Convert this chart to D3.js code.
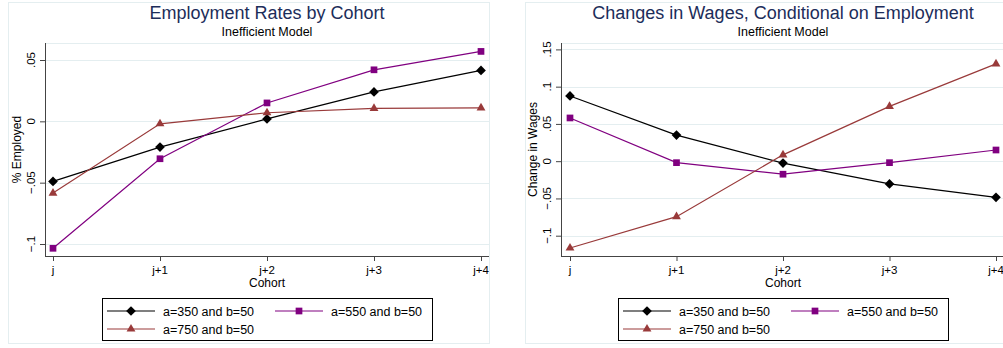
<!DOCTYPE html>
<html>
<head>
<meta charset="utf-8">
<script src="https://cdn.jsdelivr.net/npm/d3@7"></script>
<style>
  body { margin: 0; background: #fff; }
  text { font-family: "Liberation Sans", Arial, sans-serif; }
</style>
</head>
<body>
<script>
'use strict';

// cohorts on the x axis
const cohorts = ["j", "j+1", "j+2", "j+3", "j+4"];
const seriesNames = ["a=350 and b=50", "a=550 and b=50", "a=750 and b=50"];

// employment rates (left panel)
const empA350 = [-0.049, -0.021, 0.002, 0.024, 0.0415];
const empA550 = [-0.1035, -0.0305, 0.015, 0.042, 0.057];
const empA750 = [-0.0585, -0.002, 0.007, 0.0105, 0.011];
const empTicks = [-0.1, -0.05, 0, 0.05];
const empTickLabels = ["-.1", "-.05", "0", ".05"];

// changes in wages (right panel)
const wageA350 = [0.0875, 0.035, -0.0025, -0.0305, -0.0485];
const wageA550 = [0.058, -0.002, -0.0175, -0.002, 0.015];
const wageA750 = [-0.1165, -0.0745, 0.0085, 0.0735, 0.1305];
const wageTicks = [-0.1, -0.05, 0, 0.05, 0.1, 0.15];
const wageTickLabels = ["-.1", "-.05", "0", ".05", ".1", ".15"];

const colors = ["#000000", "#800080", "#993a3a"];
const shapes = [d3.symbolDiamond2, d3.symbolSquare, d3.symbolTriangle];
const sizes = [60, 45, 34];

let svg = d3.select("body").append("svg")
  .attr("width", 1003)
  .attr("height", 348);

drawPanel({
  x0: 8, outerW: 481,
  axisX: 45, xFirst: 53, xLast: 481,
  yDomain: [-0.1, 0.05], yRange: [244, 60],
  ticks: empTicks, tickLabels: empTickLabels,
  series: [empA350, empA550, empA750],
  title: "Employment Rates by Cohort",
  ylabel: "% Employed"
});

drawPanel({
  x0: 525, outerW: 490,
  axisX: 561, xFirst: 570, xLast: 996,
  yDomain: [-0.1, 0.15], yRange: [235.7, 49.4],
  ticks: wageTicks, tickLabels: wageTickLabels,
  series: [wageA350, wageA550, wageA750],
  title: "Changes in Wages, Conditional on Employment",
  ylabel: "Change in Wages"
});

function drawPanel(cfg) {
  let g = svg.append("g");
  let right = cfg.x0 + cfg.outerW;
  let plotRight = Math.min(right, 1003);
  let plotTop = 43, plotBottom = 256;

  // outer graph region
  g.append("rect")
    .attr("x", cfg.x0 + 0.5).attr("y", 2.5)
    .attr("width", cfg.outerW).attr("height", 341)
    .attr("fill", "none")
    .attr("stroke", "#e4eef0");

  let xScale = d3.scalePoint().domain(cohorts).range([cfg.xFirst, cfg.xLast]);
  let yScale = d3.scaleLinear().domain(cfg.yDomain).range(cfg.yRange);

  // grid lines
  g.selectAll(".grid").data(cfg.ticks).enter().append("line")
    .attr("x1", cfg.axisX).attr("x2", plotRight)
    .attr("y1", d => Math.round(yScale(d)) + 0.5)
    .attr("y2", d => Math.round(yScale(d)) + 0.5)
    .attr("stroke", "#e4eef0").attr("stroke-width", 1.2);
  g.append("line")
    .attr("x1", cfg.axisX).attr("x2", plotRight)
    .attr("y1", plotTop + 0.5).attr("y2", plotTop + 0.5)
    .attr("stroke", "#e4eef0");

  // y axis
  let yAxis = d3.axisLeft(yScale).tickValues(cfg.ticks).tickSize(5).tickFormat("");
  let ya = g.append("g").attr("transform", "translate(" + cfg.axisX + ",0)").call(yAxis);
  ya.select(".domain").attr("d", "M0.5," + plotTop + "V" + plotBottom).attr("stroke", "#444");
  ya.selectAll(".tick line").attr("stroke", "#444");
  g.selectAll(".ylab").data(cfg.ticks).enter().append("text")
    .attr("transform", (d) => "translate(" + (cfg.axisX - 10) + "," + yScale(d) + ")rotate(-90)")
    .attr("text-anchor", "middle")
    .style("font-size", "11.5px")
    .text((d, i) => cfg.tickLabels[i].replace("-", "\u2212"));

  // x axis
  let xAxis = d3.axisBottom(xScale).tickSize(5).tickFormat("");
  let xa = g.append("g").attr("transform", "translate(0," + plotBottom + ")").call(xAxis);
  xa.select(".domain").attr("d", "M" + cfg.axisX + ",0.5H" + plotRight).attr("stroke", "#444");
  xa.selectAll(".tick line").attr("stroke", "#444");
  g.selectAll(".xlab").data(cohorts).enter().append("text")
    .attr("x", d => xScale(d))
    .attr("y", 274)
    .attr("text-anchor", "middle")
    .style("font-size", "11.5px")
    .text(d => d);

  let cx = (cfg.axisX + cfg.xLast + 8) / 2;
  if (cfg.x0 > 500) cx = xScale("j+2");

  // axis titles
  g.append("text").attr("x", cx).attr("y", 287)
    .attr("text-anchor", "middle").style("font-size", "12px").text("Cohort");
  g.append("text")
    .attr("transform", "translate(" + (cfg.axisX - 24) + "," + ((plotTop + plotBottom) / 2) + ")rotate(-90)")
    .attr("text-anchor", "middle").style("font-size", "12px").text(cfg.ylabel);

  // titles
  g.append("text").attr("x", cx).attr("y", 18.5)
    .attr("text-anchor", "middle").style("font-size", "18px").attr("fill", "#1c2d5a")
    .text(cfg.title);
  g.append("text").attr("x", cx).attr("y", 36)
    .attr("text-anchor", "middle").style("font-size", "12.5px")
    .text("Inefficient Model");

  // series lines and markers
  let line = d3.line().x((d, i) => xScale(cohorts[i])).y(d => yScale(d));
  cfg.series.forEach((vals, s) => {
    g.append("path").datum(vals)
      .attr("d", line)
      .attr("fill", "none")
      .attr("stroke", colors[s])
      .attr("stroke-width", 1.2);
    g.selectAll(".pt" + s).data(vals).enter().append("path")
      .attr("transform", (d, i) => "translate(" + xScale(cohorts[i]) + "," + yScale(d) + ")")
      .attr("d", d3.symbol().type(shapes[s]).size(sizes[s]))
      .attr("fill", colors[s]);
  });

  // legend
  let lx = cx - 165;
  let leg = g.append("g").attr("transform", "translate(" + lx + ",298)");
  leg.append("rect").attr("x", 0.5).attr("y", 0.5).attr("width", 330).attr("height", 42)
    .attr("fill", "#fff").attr("stroke", "#000");
  let pos = [[5, 13], [173, 13], [5, 31]];
  seriesNames.forEach((name, s) => {
    let p = pos[s];
    leg.append("line").attr("x1", p[0]).attr("x2", p[0] + 48)
      .attr("y1", p[1]).attr("y2", p[1])
      .attr("stroke", colors[s]).attr("stroke-width", 1.2);
    leg.append("path")
      .attr("transform", "translate(" + (p[0] + 24) + "," + p[1] + ")")
      .attr("d", d3.symbol().type(shapes[s]).size(sizes[s]))
      .attr("fill", colors[s]);
    leg.append("text").attr("x", p[0] + 56).attr("y", p[1] + 4.5)
      .style("font-size", "12.5px").text(name);
  });
}
</script>
</body>
</html>
